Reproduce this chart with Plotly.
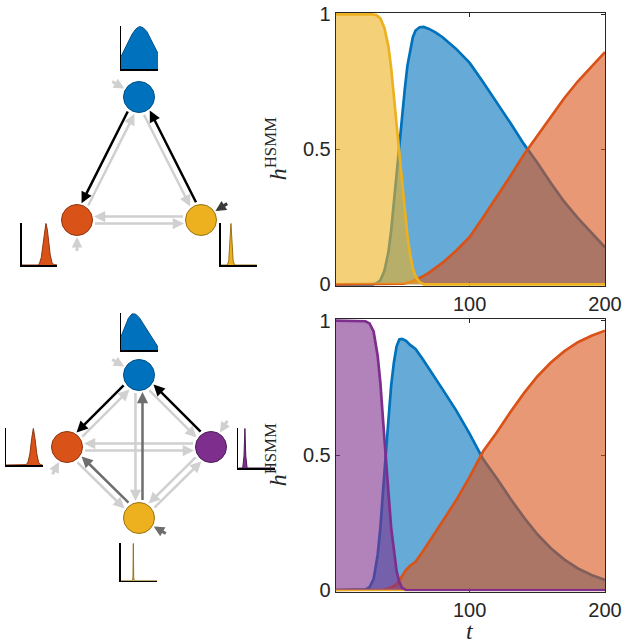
import math
import plotly.graph_objects as go

W, H = 624, 642

# ---------------- data: top panel (3-state model) ----------------
t_top = [1, 5, 10, 15, 20, 25, 28, 31, 34, 37, 40, 42, 44, 46, 48, 50, 52, 54, 56, 58,
         60, 63, 66, 70, 75, 80, 90, 100, 110, 120, 130, 140, 150, 160, 170, 180, 190, 200]
yellow_top = [1, 1, 1, 1, 1, 1, 1, 0.997, 0.985, 0.95, 0.88, 0.80, 0.69, 0.59, 0.50, 0.39, 0.28, 0.18, 0.11, 0.06,
              0.03, 0.008, 0, 0, 0, 0, 0, 0, 0, 0, 0, 0, 0, 0, 0, 0, 0, 0]
blue_top = [0, 0, 0, 0, 0, 0, 0, 0.003, 0.015, 0.05, 0.12, 0.20, 0.31, 0.40, 0.50, 0.61, 0.72, 0.81, 0.87, 0.915,
            0.94, 0.952, 0.953, 0.946, 0.932, 0.915, 0.872, 0.82, 0.748, 0.675, 0.598, 0.52, 0.45, 0.375, 0.305, 0.245, 0.19, 0.137]
orange_top = [0, 0, 0, 0, 0, 0, 0, 0, 0, 0, 0, 0, 0, 0.001, 0.001, 0.002, 0.003, 0.005, 0.008, 0.012,
              0.016, 0.023, 0.031, 0.043, 0.06, 0.08, 0.124, 0.175, 0.248, 0.322, 0.40, 0.48, 0.55, 0.622, 0.69, 0.752, 0.808, 0.86]

# ---------------- data: bottom panel (4-state model) ----------------
t_bot = [1, 5, 10, 15, 20, 23, 26, 29, 32, 34, 36, 38, 40, 42, 44, 46, 48, 50, 53, 56,
         60, 65, 70, 80, 90, 100, 110, 120, 130, 140, 150, 160, 170, 180, 190, 200]
purple_bot = [1, 1, 1, 1, 1, 0.998, 0.99, 0.96, 0.87, 0.77, 0.63, 0.51, 0.36, 0.23, 0.14, 0.07, 0.03, 0.008, 0, 0,
              0, 0, 0, 0, 0, 0, 0, 0, 0, 0, 0, 0, 0, 0, 0, 0]
blue_bot = [0, 0, 0, 0, 0, 0.002, 0.01, 0.04, 0.13, 0.23, 0.369, 0.487, 0.634, 0.76, 0.845, 0.905, 0.93, 0.932, 0.925, 0.91,
            0.895, 0.86, 0.82, 0.745, 0.667, 0.58, 0.485, 0.415, 0.34, 0.27, 0.207, 0.155, 0.113, 0.08, 0.056, 0.037]
orange_bot = [0, 0, 0, 0, 0, 0, 0, 0, 0, 0, 0.001, 0.003, 0.006, 0.01, 0.015, 0.022, 0.035, 0.05, 0.075, 0.09,
              0.105, 0.14, 0.18, 0.255, 0.333, 0.42, 0.515, 0.585, 0.66, 0.73, 0.793, 0.845, 0.887, 0.92, 0.944, 0.963]
yellow_bot = [0, 0, 0, 0, 0, 0, 0, 0, 0, 0, 0, 0, 0, 0, 0, 0, 0, 0, 0, 0,
              0, 0, 0, 0, 0, 0, 0, 0, 0, 0, 0, 0, 0, 0, 0, 0]

x_ticks = [100, 200]
y_ticks = [0, 0.5, 1]
y_ticktext = ["0", "0.5", "1"]

# ---------------- duration distributions (mini plots) ----------------
dur_top_blue_x = [0, 0.1, 0.2, 0.3, 0.4, 0.5, 0.6, 0.7, 0.8, 0.9, 1.0]
dur_top_blue_y = [0.29, 0.47, 0.64, 0.81, 0.93, 0.99, 0.96, 0.87, 0.70, 0.53, 0.36]
dur_top_orange_x = [0, 0.45, 0.5, 0.55, 0.6, 0.64, 0.68, 0.72, 0.76, 0.8, 0.85, 0.9, 1.0]
dur_top_orange_y = [0, 0, 0.04, 0.18, 0.5, 0.82, 1.0, 0.85, 0.55, 0.25, 0.06, 0.01, 0]
dur_top_yellow_x = [0, 0.18, 0.22, 0.25, 0.28, 0.31, 0.34, 0.38, 1.0]
dur_top_yellow_y = [0, 0, 0.1, 0.55, 1.0, 0.55, 0.1, 0, 0]
dur_bot_blue_x = [0, 0.1, 0.2, 0.3, 0.4, 0.5, 0.6, 0.7, 0.8, 0.9, 1.0]
dur_bot_blue_y = [0.36, 0.62, 0.85, 0.97, 0.96, 0.86, 0.70, 0.54, 0.37, 0.21, 0.08]
dur_bot_orange_x = [0, 0.55, 0.6, 0.65, 0.7, 0.745, 0.79, 0.84, 0.89, 0.95, 1.0]
dur_bot_orange_y = [0, 0.01, 0.08, 0.3, 0.72, 1.0, 0.72, 0.3, 0.07, 0.005, 0]
dur_bot_purple_x = [0, 0.12, 0.155, 0.18, 0.205, 0.24, 1.0]
dur_bot_purple_y = [0, 0, 0.3, 1.0, 0.3, 0, 0]
dur_bot_yellow_x = [0, 0.32, 0.335, 0.345, 0.355, 0.37, 1.0]
dur_bot_yellow_y = [0, 0, 0.08, 1.0, 0.08, 0, 0]

# ---------------- state graphs ----------------
top_nodes = ["blue", "orange", "yellow"]
top_node_x = [139, 77, 201]
top_node_y = [97, 220, 220]
top_edges = [("orange", "blue", "light"), ("blue", "yellow", "light"), ("yellow", "orange", "light"),
             ("orange", "yellow", "light"), ("blue", "orange", "black"), ("yellow", "blue", "black")]
top_init = {"blue": (150, "light"), "orange": (270, "light"), "yellow": (32, "init_dark")}

bot_nodes = ["blue", "orange", "purple", "yellow"]
bot_node_x = [139, 67, 211, 139]
bot_node_y = [375, 447, 447, 518]
bot_edges = [("orange", "blue", "light"), ("blue", "purple", "light"), ("purple", "orange", "light"),
             ("orange", "purple", "light"), ("orange", "yellow", "light"), ("blue", "yellow", "light"),
             ("purple", "yellow", "light"), ("yellow", "purple", "light"),
             ("yellow", "orange", "dark"), ("yellow", "blue", "dark"),
             ("blue", "orange", "black"), ("purple", "blue", "black")]
bot_init = {"blue": (150, "light"), "orange": (242, "light"), "purple": (58, "light"), "yellow": (330, "dark")}

# ---------------- styles ----------------
COL = {"blue": "#0072BD", "orange": "#D95319", "yellow": "#EDB120", "purple": "#7E2F8E"}
EDGE_COL = {"blue": "#00508A", "orange": "#8F3510", "yellow": "#9A7314", "purple": "#4E1C59"}
ARROW_COL = {"light": "#D0D0D0", "dark": "#6E6E6E", "black": "#000000", "init_dark": "#3A3A3A"}
AX_COL = "#262626"
TICK_FONT = dict(family="Liberation Sans", size=20, color=AX_COL)


def rgba(hexc, a):
    h = hexc.lstrip("#")
    r, g, b = int(h[0:2], 16), int(h[2:4], 16), int(h[4:6], 16)
    return f"rgba({r},{g},{b},{a})"


def dom_x(left, right):
    return [left / W, right / W]


def dom_y(top, bottom):
    return [1 - bottom / H, 1 - top / H]


fig = go.Figure()
layout = dict(width=W, height=H, margin=dict(l=0, r=0, t=0, b=0, autoexpand=False),
              paper_bgcolor="white", plot_bgcolor="rgba(0,0,0,0)", showlegend=False)
annotations = []

# ---------------- main panels ----------------
YPAD = 0.006
panels = [
    dict(n="", box=(335.7, 14.3, 605, 284.3), t=t_top,
         series=[("blue", blue_top), ("orange", orange_top), ("yellow", yellow_top)]),
    dict(n="2", box=(335.7, 320.7, 605, 590), t=t_bot,
         series=[("blue", blue_bot), ("orange", orange_bot), ("yellow", yellow_bot), ("purple", purple_bot)]),
]
for p in panels:
    l, tp, r, b = p["box"]
    padpx = YPAD * (b - tp)
    n = p["n"]
    layout["xaxis" + n] = dict(domain=dom_x(l, r), range=[1, 200], tickvals=x_ticks,
                               ticks="inside", ticklen=4, tickcolor=AX_COL, showline=True, linecolor=AX_COL,
                               linewidth=1, mirror="ticks", showgrid=False, zeroline=False,
                               tickfont=TICK_FONT, anchor="y" + n, layer="below traces", automargin=False)
    layout["yaxis" + n] = dict(domain=dom_y(tp - padpx, b + padpx), range=[-YPAD, 1 + YPAD],
                               tickvals=y_ticks, ticktext=y_ticktext,
                               ticks="inside", ticklen=4, tickcolor=AX_COL, showline=True, linecolor=AX_COL,
                               linewidth=1, mirror="ticks", showgrid=False, zeroline=False,
                               tickfont=TICK_FONT, anchor="x" + n, layer="below traces", automargin=False)
    for name, vals in p["series"]:
        fig.add_trace(go.Scatter(x=p["t"], y=vals, mode="lines",
                                 line=dict(color=COL[name], width=2.7),
                                 fill="tozeroy", fillcolor=rgba(COL[name], 0.6),
                                 xaxis="x" + n, yaxis="y" + n, hoverinfo="skip"))
    annotations.append(dict(text="<i>h</i><sup>HSMM</sup>", textangle=-90, x=276 / W,
                            y=1 - ((tp + b) / 2) / H, xref="paper", yref="paper", showarrow=False,
                            xanchor="center", yanchor="middle",
                            font=dict(family="Liberation Serif", size=24, color=AX_COL)))

annotations.append(dict(text="<i>t</i>", x=470 / W, y=1 - 631 / H, xref="paper", yref="paper",
                        showarrow=False, xanchor="center", yanchor="middle",
                        font=dict(family="Liberation Serif", size=24, color=AX_COL)))

# ---------------- graph canvas ----------------
layout["xaxis3"] = dict(domain=[0, 312 / W], range=[0, 312], visible=False, anchor="y3")
layout["yaxis3"] = dict(domain=[0, 1], range=[H, 0], visible=False, anchor="x3")

R = 15.5
OFF = 3.5


def arrow(hx, hy, tx, ty, color, width, size):
    annotations.append(dict(x=hx, y=hy, ax=tx, ay=ty, xref="x3", yref="y3", axref="x3", ayref="y3",
                            showarrow=True, arrowhead=2, arrowsize=size, arrowwidth=width,
                            arrowcolor=color, text="", standoff=0, startstandoff=0,
                            borderpad=0, font=dict(size=1)))


def add_graph(nodes, nx, ny, edges, init):
    pos = {nm: (nx[i], ny[i]) for i, nm in enumerate(nodes)}
    order = {"light": 0, "dark": 1, "init_dark": 1, "black": 2}
    for a, bnode, lvl in sorted(edges, key=lambda e: order[e[2]]):
        x0, y0 = pos[a]
        x1, y1 = pos[bnode]
        L = math.hypot(x1 - x0, y1 - y0)
        ux, uy = (x1 - x0) / L, (y1 - y0) / L
        px, py = -uy, ux
        tx, ty = x0 + ux * (R + 2) + px * OFF, y0 + uy * (R + 2) + py * OFF
        hx, hy = x1 - ux * (R + 1.5) + px * OFF, y1 - uy * (R + 1.5) + py * OFF
        arrow(hx, hy, tx, ty, ARROW_COL[lvl], 2.5, 0.9)
    for nm, (ang, lvl) in init.items():
        cx, cy = pos[nm]
        dx, dy = math.cos(math.radians(ang)), -math.sin(math.radians(ang))
        arrow(cx + dx * (R + 1.5), cy + dy * (R + 1.5), cx + dx * (R + 16), cy + dy * (R + 16),
              ARROW_COL[lvl], 3, 0.7)
    fig.add_trace(go.Scatter(x=nx, y=ny, mode="markers",
                             marker=dict(size=2 * R, color=[COL[n] for n in nodes],
                                         line=dict(color=[EDGE_COL[n] for n in nodes], width=1)),
                             xaxis="x3", yaxis="y3", hoverinfo="skip"))


add_graph(top_nodes, top_node_x, top_node_y, top_edges, top_init)
add_graph(bot_nodes, bot_node_x, bot_node_y, bot_edges, bot_init)

# ---------------- mini duration plots ----------------
minis = [
    ("blue", dur_top_blue_x, dur_top_blue_y, (121, 26, 158, 69)),
    ("orange", dur_top_orange_x, dur_top_orange_y, (21.7, 223.3, 57.3, 265)),
    ("yellow", dur_top_yellow_x, dur_top_yellow_y, (220.7, 223.3, 257.3, 265)),
    ("blue", dur_bot_blue_x, dur_bot_blue_y, (121, 312.7, 158, 350)),
    ("orange", dur_bot_orange_x, dur_bot_orange_y, (6, 428.3, 42.7, 465)),
    ("purple", dur_bot_purple_x, dur_bot_purple_y, (238.3, 428.3, 275, 468)),
    ("yellow", dur_bot_yellow_x, dur_bot_yellow_y, (120.7, 543.3, 157.3, 580.7)),
]
for k, (nm, xs, ys, (l, tp, r, b)) in enumerate(minis):
    n = str(4 + k)
    common = dict(showline=True, linecolor="#000000", linewidth=1.5, showgrid=False, zeroline=False,
                  showticklabels=False, ticks="")
    layout["xaxis" + n] = dict(domain=dom_x(l, r), range=[0, 1], anchor="y" + n, **common)
    layout["yaxis" + n] = dict(domain=dom_y(tp, b), range=[0, 1.0], anchor="x" + n, **common)
    fig.add_trace(go.Scatter(x=xs, y=ys, mode="lines", line=dict(color=EDGE_COL[nm], width=1),
                             fill="tozeroy", fillcolor=COL[nm], xaxis="x" + n, yaxis="y" + n,
                             hoverinfo="skip"))

layout["annotations"] = annotations
fig.update_layout(**layout)
fig.write_html("out.html", config={"displayModeBar": False, "staticPlot": True},
               post_script="document.body.style.margin='0px';document.body.style.padding='0px';"
                           "document.body.style.overflow='hidden';")
